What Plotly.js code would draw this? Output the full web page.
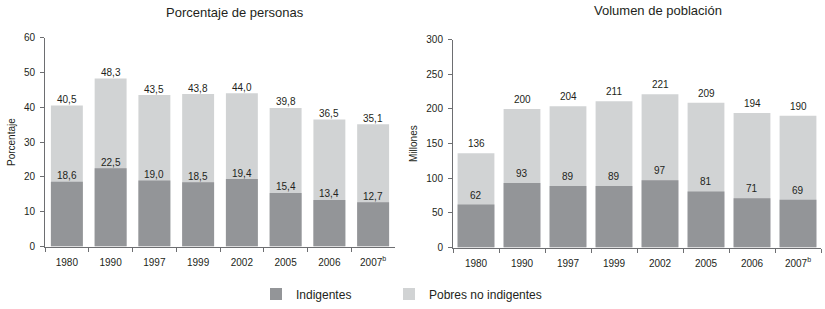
<!DOCTYPE html>
<html>
<head>
<meta charset="utf-8">
<script src="https://cdn.plot.ly/plotly-3.0.1.min.js"></script>
<style>html,body{margin:0;padding:0;background:#fff;}#chart{width:825px;height:309px;}</style>
</head>
<body>
<div id="chart"></div>
<script>
// ---- data ----
var years = ['1980','1990','1997','1999','2002','2005','2006','2007<sup>b</sup>'];
var pctTotal = [40.5, 48.3, 43.5, 43.8, 44.0, 39.8, 36.5, 35.1];
var pctIndig = [18.6, 22.5, 19.0, 18.5, 19.4, 15.4, 13.4, 12.7];
var volTotal = [136, 200, 204, 211, 221, 209, 194, 190];
var volIndig = [62, 93, 89, 89, 97, 81, 71, 69];
var leftTitle = 'Porcentaje de personas';
var rightTitle = 'Volumen de población';
var leftYTitle = 'Porcentaje';
var rightYTitle = 'Millones';
var nameIndig = 'Indigentes';
var namePobres = 'Pobres no indigentes';

var DARK = '#939598', LIGHT = '#d1d3d4', TXT = '#231f20', AX = '#6d6e71';
var FONT = 'Liberation Sans, Arial, sans-serif';

function fmt1(v){ return v.toFixed(1).replace('.', ','); }

var traces = [
  {type:'bar', x:years, y:pctTotal, xaxis:'x', yaxis:'y', name:namePobres, marker:{color:LIGHT}, width:0.73, showlegend:false, hoverinfo:'none'},
  {type:'bar', x:years, y:pctIndig, xaxis:'x', yaxis:'y', name:nameIndig, marker:{color:DARK}, width:0.73, showlegend:true, legend:'legend', hoverinfo:'none'},
  {type:'bar', x:years, y:volTotal, xaxis:'x2', yaxis:'y2', name:namePobres, marker:{color:LIGHT}, width:0.8, showlegend:true, legend:'legend2', hoverinfo:'none'},
  {type:'bar', x:years, y:volIndig, xaxis:'x2', yaxis:'y2', name:nameIndig, marker:{color:DARK}, width:0.8, showlegend:false, hoverinfo:'none'}
];

var ann = [];
function addLabels(vals, xr, yr, shift, f){
  vals.forEach(function(v, i){
    ann.push({x:i, y:v, xref:xr, yref:yr, text:f(v), showarrow:false,
      yanchor:'bottom', yshift:shift, font:{family:FONT, size:10, color:TXT}});
  });
}
addLabels(pctTotal, 'x', 'y', -1.5, fmt1);
addLabels(pctIndig, 'x', 'y', -1.5, fmt1);
addLabels(volTotal, 'x2', 'y2', 2, String);
addLabels(volIndig, 'x2', 'y2', 2, String);

ann.push({text:leftTitle, xref:'paper', yref:'paper', x:235/825, y:1-13/309, showarrow:false, xanchor:'center', yanchor:'middle', font:{family:FONT, size:13, color:TXT}});
ann.push({text:rightTitle, xref:'paper', yref:'paper', x:658/825, y:1-11/309, showarrow:false, xanchor:'center', yanchor:'middle', font:{family:FONT, size:13, color:TXT}});

function xax(dom, anchor){
  return {domain:dom, anchor:anchor, type:'category', range:[-0.5, 7.5], autorange:false, showline:true, linecolor:AX, linewidth:1,
    ticks:'outside', tickson:'boundaries', ticklen:4, tickcolor:AX, showgrid:false, zeroline:false,
    tickfont:{family:FONT, size:10, color:TXT}, ticklabelstandoff:6, fixedrange:true};
}
function yax(dom, anchor, rng, dt, title){
  return {domain:dom, anchor:anchor, range:rng, autorange:false, dtick:dt, showline:true, linecolor:AX, linewidth:1,
    ticks:'outside', ticklen:4, tickcolor:AX, showgrid:false, zeroline:false,
    tickfont:{family:FONT, size:10, color:TXT}, ticklabelstandoff:3,
    title:{text:title, font:{family:FONT, size:10, color:TXT}, standoff:6}, fixedrange:true};
}

var legBase = {orientation:'h', xanchor:'left', y:12/309, yanchor:'middle',
  font:{family:FONT, size:12, color:TXT}, bgcolor:'rgba(0,0,0,0)'};

var layout = {
  width:825, height:309, margin:{l:0, r:0, t:0, b:0},
  paper_bgcolor:'#fff', plot_bgcolor:'#fff',
  barmode:'overlay',
  font:{family:FONT, color:TXT},
  xaxis: xax([45/825, 395/825], 'y'),
  yaxis: yax([60/309, 271/309], 'x', [0, 60], 10, leftYTitle),
  xaxis2: xax([453/825, 821/825], 'y2'),
  yaxis2: yax([59/309, 269/309], 'x2', [0, 300], 50, rightYTitle),
  showlegend:true,
  legend: Object.assign({}, legBase, {x:256/825}),
  legend2: Object.assign({}, legBase, {x:389/825}),
  annotations: ann
};

Plotly.newPlot('chart', traces, layout, {staticPlot:true, displayModeBar:false});
</script>
</body>
</html>
